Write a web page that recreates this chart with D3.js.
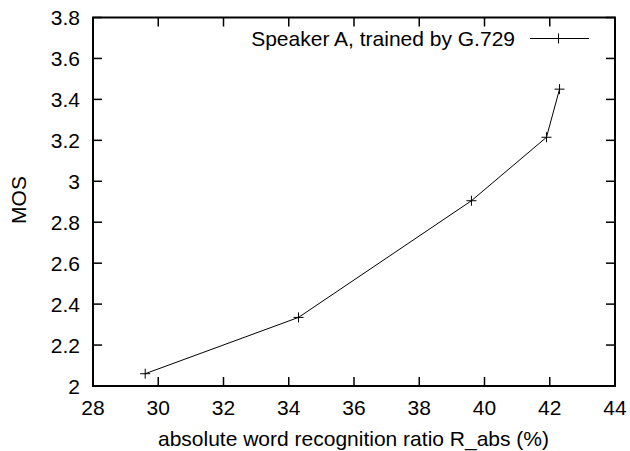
<!DOCTYPE html>
<meta charset="utf-8">
<style>
  body { margin: 0; background: #fff; }
  text { font-family: "Liberation Sans", Arial, sans-serif; font-size: 21px; fill: #000; }
</style>
<body>
<svg id="chart" width="630" height="451"></svg>
<script src="https://d3js.org/d3.v7.min.js"></script>
<script>
  // data
  var recognition = [29.6, 34.3, 39.6, 41.9, 42.3];
  var mos = [2.06, 2.335, 2.905, 3.215, 3.45];
  var seriesName = "Speaker A, trained by G.729";
  var xTicks = [28, 30, 32, 34, 36, 38, 40, 42, 44];
  var yTicks = [2, 2.2, 2.4, 2.6, 2.8, 3, 3.2, 3.4, 3.6, 3.8];

  var svg = d3.select("#chart"),
    plot = {left: 93, right: 615, top: 17.5, bottom: 386};

  var x = d3.scaleLinear().domain([28, 44]).range([plot.left, plot.right]);
  var y = d3.scaleLinear().domain([2, 3.8]).range([plot.bottom, plot.top]);

  var tick = 9;

  // ticks on all four sides (gnuplot mirror)
  var g = svg.append("g").attr("stroke", "#000").attr("stroke-width", 1.5);
  xTicks.forEach(function(t) {
    g.append("line").attr("x1", x(t)).attr("x2", x(t)).attr("y1", plot.bottom).attr("y2", plot.bottom - tick);
    g.append("line").attr("x1", x(t)).attr("x2", x(t)).attr("y1", plot.top).attr("y2", plot.top + tick);
  });
  yTicks.forEach(function(t) {
    g.append("line").attr("x1", plot.left).attr("x2", plot.left + tick).attr("y1", y(t)).attr("y2", y(t));
    g.append("line").attr("x1", plot.right).attr("x2", plot.right - tick).attr("y1", y(t)).attr("y2", y(t));
  });

  svg.append("rect")
    .attr("x", plot.left).attr("y", plot.top)
    .attr("width", plot.right - plot.left).attr("height", plot.bottom - plot.top)
    .attr("fill", "none").attr("stroke", "#000").attr("stroke-width", 2);

  // tick labels
  svg.selectAll(".xl").data(xTicks).enter().append("text")
    .attr("x", function(d) { return x(d); })
    .attr("y", plot.bottom + 29)
    .attr("text-anchor", "middle")
    .text(function(d) { return d; });

  svg.selectAll(".yl").data(yTicks).enter().append("text")
    .attr("x", plot.left - 13)
    .attr("y", function(d) { return y(d); })
    .attr("dy", "0.36em")
    .attr("text-anchor", "end")
    .text(function(d) { return d3.format("~g")(d); });

  // axis titles
  svg.append("text")
    .attr("x", (plot.left + plot.right) / 2 - 0.5)
    .attr("y", 446)
    .attr("text-anchor", "middle")
    .text("absolute word recognition ratio R_abs (%)");

  svg.append("text")
    .attr("transform", "translate(25.5,200) rotate(-90)")
    .attr("text-anchor", "middle")
    .text("MOS");

  // series
  var pts = recognition.map(function(v, i) { return [v, mos[i]]; });

  svg.append("path")
    .datum(pts)
    .attr("fill", "none")
    .attr("stroke", "#000")
    .attr("stroke-width", 1)
    .attr("d", d3.line().x(function(d) { return x(d[0]); }).y(function(d) { return y(d[1]); }));

  var plus = 5;
  function drawPlus(cx, cy) {
    svg.append("path")
      .attr("d", "M" + (cx - plus) + "," + cy + "H" + (cx + plus) + "M" + cx + "," + (cy - plus) + "V" + (cy + plus))
      .attr("stroke", "#000").attr("stroke-width", 1).attr("fill", "none");
  }
  pts.forEach(function(d) { drawPlus(x(d[0]), y(d[1])); });

  // legend
  var ly = 38.5;
  svg.append("text")
    .attr("x", 515).attr("y", ly)
    .attr("dy", "0.36em")
    .attr("text-anchor", "end")
    .text(seriesName);
  svg.append("line")
    .attr("x1", 530).attr("x2", 589).attr("y1", ly).attr("y2", ly)
    .attr("stroke", "#000").attr("stroke-width", 1);
  drawPlus(558.5, ly);
</script>
</body>
